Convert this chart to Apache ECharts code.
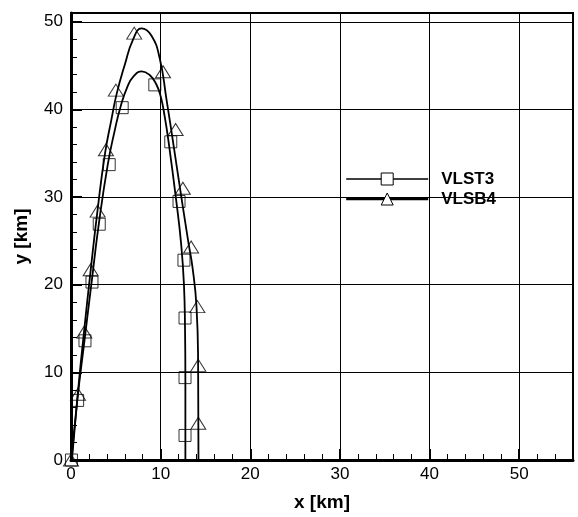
<!DOCTYPE html>
<html>
<head>
<meta charset="utf-8">
<script src="https://cdn.jsdelivr.net/npm/echarts@6/dist/echarts.min.js"></script>
<style>
  html, body { margin: 0; padding: 0; background: #fff; }
  #chart1 { width: 578px; height: 517px; }
</style>
</head>
<body>
<div id="chart1"></div>
<script>
// curves (km)
var st3CurveX = [0.05, 0.7, 1.5, 2.3, 3.1, 4.1, 4.9, 5.5, 6.3, 7.0, 7.9, 8.8, 9.5, 10.0, 10.45, 10.9, 11.75, 12.3, 12.6, 12.72, 12.76, 12.76];
var st3CurveY = [0, 6.8, 13.6, 20.3, 26.9, 33.7, 37.7, 40.2, 42.6, 43.8, 44.35, 43.9, 42.9, 41.5, 39.2, 36.2, 29.5, 24.5, 20, 15, 9, 0];

var sb4CurveX = [0.1, 0.75, 1.45, 2.2, 2.95, 3.8, 4.5, 5.1, 6.0, 6.93, 7.87, 8.98, 9.9, 10.63, 11.5, 12.4, 13.1, 13.55, 14.0, 14.18, 14.22];
var sb4CurveY = [0, 7.5, 14.6, 21.7, 28.4, 35.0, 38.8, 41.8, 45.1, 48.0, 49.24, 48.4, 45.8, 41.3, 35.5, 29.4, 24.8, 22.0, 17.5, 11, 0];

// symbol positions
var st3MarkX = [0.05, 0.74, 1.56, 2.34, 3.15, 4.26, 5.71, 9.35, 11.13, 12.05, 12.6, 12.72, 12.72, 12.72];
var st3MarkY = [0, 6.8, 13.6, 20.3, 26.9, 33.7, 40.2, 42.8, 36.3, 29.5, 22.8, 16.2, 9.4, 2.8];

var sb4MarkX = [0, 0.78, 1.48, 2.19, 2.97, 3.9, 5.0, 7.05, 10.27, 11.67, 12.48, 13.4, 14.1, 14.2, 14.2];
var sb4MarkY = [0, 7.5, 14.6, 21.7, 28.4, 35.4, 42.2, 48.7, 44.3, 37.7, 31.0, 24.3, 17.5, 10.8, 4.2];

var seriesNames = ['VLST3', 'VLSB4'];

function pairs(xs, ys){
	var out = [];
	for(var i = 0; i < xs.length; i++){
		out.push([xs[i], ys[i]]);
	}
	return out;
}

function hideOdd(value){
	return (value % 10 === 0) ? String(value) : '';
}

var font = 'Liberation Sans, Arial, sans-serif';
var myChart = echarts.init(document.getElementById('chart1'));
var option;

var minorAxis = {
	type: 'value',
	min: 0,
	interval: 2,
	axisLine: { show: true, onZero: false, lineStyle: { color: '#000', width: 3 } },
	axisTick: { show: true, inside: true, length: 6, lineStyle: { color: '#000', width: 1 } },
	axisLabel: { show: false },
	splitLine: { show: false }
};

option = {
	animation: false,
	grid: {
		left: 71, right: 5, top: 13, bottom: 46,
		show: true,
		borderColor: '#000',
		borderWidth: 2
	},
	legend: {
		data: [
			{ name: 'VLST3', itemStyle: { color: '#fff', borderColor: '#000', borderWidth: 1 }, lineStyle: { width: 1.3 } },
			{ name: 'VLSB4', itemStyle: { color: '#fff', borderColor: '#000', borderWidth: 1 }, lineStyle: { width: 2.4 } }
		],
		orient: 'vertical',
		left: 345,
		top: 169,
		padding: 0,
		itemWidth: 82,
		itemHeight: 15,
		itemGap: 0,
		textStyle: { fontFamily: font, fontSize: 17, fontWeight: 'bold', color: '#000', lineHeight: 20, padding: [0, 0, 0, 8] }
	},
	xAxis: [
		Object.assign({}, minorAxis, { max: 56, position: 'bottom' }),
		{
			type: 'value',
			min: 0,
			max: 56,
			interval: 10,
			position: 'bottom',
			name: 'x [km]',
			nameLocation: 'middle',
			nameGap: 33,
			nameTextStyle: { fontFamily: font, fontSize: 19, fontWeight: 'bold', color: '#000' },
			axisLine: { show: false },
			axisTick: { show: true, inside: true, length: 11, lineStyle: { color: '#000', width: 2 } },
			axisLabel: { fontFamily: font, fontSize: 17, color: '#000', margin: 6, formatter: hideOdd },
			splitLine: { show: true, lineStyle: { color: '#000', width: 1 } }
		}
	],
	yAxis: [
		Object.assign({}, minorAxis, { max: 51, position: 'left' }),
		{
			type: 'value',
			min: 0,
			max: 51,
			interval: 10,
			position: 'left',
			name: 'y [km]',
			nameLocation: 'middle',
			nameGap: 40,
			nameTextStyle: { fontFamily: font, fontSize: 19, fontWeight: 'bold', color: '#000' },
			axisLine: { show: false },
			axisTick: { show: true, inside: true, length: 11, lineStyle: { color: '#000', width: 2 } },
			axisLabel: { fontFamily: font, fontSize: 17, color: '#000', margin: 8, formatter: hideOdd },
			splitLine: { show: true, lineStyle: { color: '#000', width: 1 } }
		}
	],
	series: [
		{
			name: seriesNames[0],
			type: 'line',
			smooth: 0.5,
			symbol: 'rect',
			showSymbol: false,
			lineStyle: { color: '#000', width: 1.8 },
			itemStyle: { color: '#fff', borderColor: '#000' },
			data: pairs(st3CurveX, st3CurveY)
		},
		{
			name: seriesNames[1],
			type: 'line',
			smooth: 0.5,
			symbol: 'triangle',
			showSymbol: false,
			lineStyle: { color: '#000', width: 1.8 },
			itemStyle: { color: '#fff', borderColor: '#000' },
			data: pairs(sb4CurveX, sb4CurveY)
		},
		{
			name: 'st3-marks',
			type: 'scatter',
			symbol: 'rect',
			symbolSize: 12,
			itemStyle: { color: 'rgba(0,0,0,0)', borderColor: '#000', borderWidth: 1 },
			data: pairs(st3MarkX, st3MarkY),
			z: 3
		},
		{
			name: 'sb4-marks',
			type: 'scatter',
			symbol: 'triangle',
			symbolSize: [15, 12],
			itemStyle: { color: 'rgba(0,0,0,0)', borderColor: '#000', borderWidth: 1 },
			data: pairs(sb4MarkX, sb4MarkY),
			z: 3
		}
	]
};

option && myChart.setOption(option);
</script>
</body>
</html>
